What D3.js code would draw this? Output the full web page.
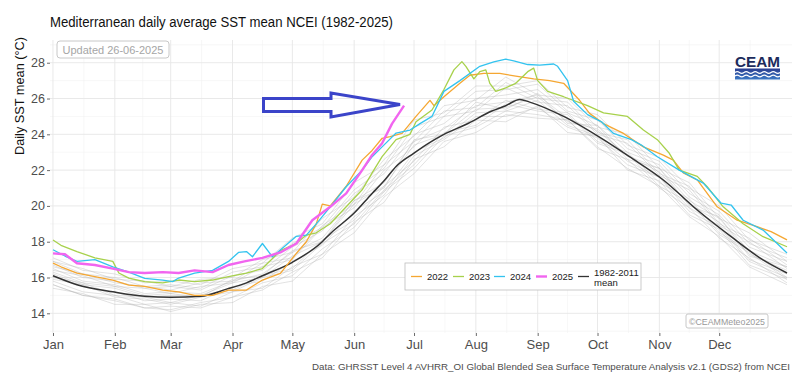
<!DOCTYPE html>
<html>
<head>
<meta charset="utf-8">
<script src="https://cdn.jsdelivr.net/npm/d3@7/dist/d3.min.js"></script>
<style>
body{margin:0;background:#fff}
svg{display:block;font-family:"Liberation Sans",Arial,sans-serif}
</style>
</head>
<body>
<svg width="800" height="384"></svg>
<script>

// month ticks (day of year, 0 = 1 Jan)
const monthDays = [0, 31, 59, 90, 120, 151, 181, 212, 243, 273, 304, 334]
const monthLabels = ["Jan","Feb","Mar","Apr","May","Jun","Jul","Aug","Sep","Oct","Nov","Dec"]
const yTicks = [14, 16, 18, 20, 22, 24, 26, 28]

// 1982-2011 mean
const meanDays = [0,12,30,46,59,74,87,97,105,120,135,139,151,160,166,172,181,189,196,207,220,227,234,239,256,276,289,306,323,340,356,368]
const meanVals = [16.1,15.6,15.2,14.95,14.9,14.95,15.35,15.7,16.1,16.85,18.0,18.45,19.6,20.7,21.4,22.2,22.95,23.55,24.0,24.55,25.3,25.6,25.95,25.8,25.0,23.7,22.75,21.45,19.77,18.28,16.98,16.25]

// 2022
const days2022 = [0,4,12,21,30,38,46,55,63,71,80,88,97,105,114,122,127,132,135,139,147,155,160,165,169,175,182,189,191,196,204,209,216,224,232,241,249,256,264,269,276,286,296,306,311,316,323,333,343,353,360,368]
const vals2022 = [16.8,16.6,16.25,16.05,15.86,15.58,15.5,15.3,15.2,15.0,15.0,15.3,15.3,15.86,16.23,17.35,18.0,19.0,20.1,20.0,21.1,22.56,23.1,23.78,23.87,24.05,25.0,25.9,25.6,26.1,26.85,27.3,27.4,27.4,27.25,27.1,27.0,26.85,25.9,25.17,24.6,24.05,23.3,22.84,22.56,21.85,21.45,19.95,19.2,18.84,18.56,18.1]

// 2023
const days2023 = [0,4,12,21,30,33,38,46,55,63,71,80,88,97,105,114,122,127,132,139,147,155,160,165,172,179,182,190,196,201,205,207,211,214,217,219,222,227,232,238,241,243,248,256,268,276,288,296,303,309,314,323,328,336,346,356,368]
const vals2023 = [18.1,17.8,17.45,17.1,16.9,16.25,15.97,15.77,15.7,15.86,15.77,15.86,16.05,16.25,16.5,17.5,17.9,18.37,18.5,19.0,19.95,20.9,21.85,22.75,23.7,24.0,24.7,25.36,26.5,27.6,28.06,27.8,27.1,27.5,27.6,26.85,26.4,26.6,26.85,27.5,27.7,27.0,26.4,26.1,25.6,25.2,25.0,24.24,23.7,22.94,22.0,21.65,21.07,19.95,19.0,18.28,17.72]

// 2024
const days2024 = [0,6,12,21,30,38,46,55,60,63,71,80,88,93,97,100,105,110,122,127,132,139,147,155,160,165,172,179,184,190,196,204,214,221,227,231,238,244,251,253,258,261,268,275,281,290,295,303,314,326,335,340,346,356,368]
const vals2024 = [17.55,17.2,16.9,17.0,16.6,16.3,15.95,15.85,15.77,15.97,16.25,16.4,16.9,17.4,17.45,17.16,17.9,17.16,18.3,18.37,19.0,19.95,21.07,22.0,22.75,23.3,24.07,24.24,24.6,25.0,26.4,27.0,27.8,28.05,28.2,28.1,27.9,27.87,27.93,27.8,27.0,25.85,25.1,24.7,24.05,23.7,23.4,22.75,22.0,21.27,20.15,20.05,19.2,18.65,17.37]

// 2025 (up to 26 June)
const days2025 = [0,6,12,21,30,38,46,55,63,71,80,88,96,105,114,122,130,139,147,155,160,165,170,176]
const vals2025 = [17.35,17.3,16.8,16.7,16.5,16.3,16.25,16.3,16.25,16.4,16.3,16.7,16.9,17.1,17.4,17.9,19.2,19.95,20.7,22.0,22.85,23.5,24.6,25.6]

// other years, 1982-2021 (grey)
const greyDays = [0,15,31,46,59,74,90,105,120,135,151,166,181,196,212,227,243,258,273,288,304,319,334,349,368]
const greyYears = [
  [15.6,15.0,14.7,14.3,14.2,14.6,14.9,15.7,16.1,17.6,18.8,20.8,22.1,23.9,24.4,25.3,25.1,24.8,23.2,22.6,21.0,19.9,18.2,17.1,15.7],
  [16.5,15.8,15.6,15.1,15.2,15.1,15.8,16.2,17.4,18.2,20.3,21.3,23.6,24.3,25.6,25.8,26.2,24.9,24.2,22.8,22.1,20.3,19.3,17.5,16.6],
  [15.9,15.6,14.9,14.8,14.5,14.9,15.2,16.0,16.4,17.9,19.0,20.9,22.3,24.1,24.5,25.7,25.3,25.1,23.5,22.9,21.1,20.2,18.4,17.4,15.9],
  [16.7,16.0,15.8,15.4,15.5,15.3,16.1,16.4,17.7,18.6,20.7,21.8,24.0,24.6,26.0,26.2,26.5,25.2,24.5,23.0,22.3,20.5,19.5,17.7,16.9],
  [15.4,15.1,14.5,14.5,14.1,14.5,14.6,15.5,15.8,17.3,18.5,20.5,21.8,23.6,24.1,25.1,24.9,24.8,23.3,22.1,21.1,19.4,18.3,16.6,15.6],
  [16.2,15.6,15.4,14.9,15.0,15.0,15.7,16.0,17.2,18.0,20.1,21.1,23.4,24.0,25.4,25.5,26.1,24.7,24.3,22.8,21.9,20.1,19.1,17.3,16.4],
  [16.9,16.2,16.0,15.5,15.6,15.4,16.3,16.6,17.9,18.8,20.9,22.1,24.4,25.0,26.4,26.5,26.8,25.3,24.8,23.2,22.5,20.7,19.7,17.9,17.1],
  [16.0,15.7,15.0,14.9,14.6,15.0,15.3,16.1,16.5,18.1,19.2,21.1,22.5,24.4,24.8,25.9,25.4,25.2,23.6,23.0,21.3,20.4,18.5,17.5,16.0],
  [17.1,16.4,16.2,15.7,15.8,15.6,16.5,16.8,18.2,19.0,21.3,22.3,24.8,25.2,26.7,26.7,27.0,25.5,25.1,23.4,22.7,21.0,20.0,18.1,17.3],
  [15.8,15.2,15.0,14.5,14.6,14.4,15.2,15.4,16.6,17.3,19.4,20.6,22.8,23.7,25.0,25.0,25.5,24.4,23.8,22.3,21.6,19.7,18.8,16.9,16.0],
  [16.4,16.1,15.5,15.4,15.1,15.5,15.7,16.6,17.0,18.8,19.9,22.0,23.3,25.0,25.3,26.6,25.8,25.6,24.0,23.5,21.7,20.9,18.9,18.0,16.5],
  [16.3,15.7,15.5,15.0,15.1,14.9,15.9,16.1,17.5,18.0,20.3,21.0,23.7,24.0,25.8,25.4,26.3,24.6,24.5,22.6,22.1,20.0,19.4,17.2,16.6],
  [16.9,16.5,15.9,15.8,15.5,15.9,16.0,17.0,17.4,19.3,20.5,22.6,23.9,25.6,25.9,27.2,26.2,26.0,24.4,24.0,22.1,21.3,19.3,18.5,16.9],
  [15.6,15.0,14.8,14.3,14.4,14.3,14.9,15.3,16.3,17.1,19.1,20.2,22.6,23.3,24.8,24.7,25.6,24.1,23.9,22.0,21.4,19.5,18.7,16.7,15.9],
  [16.1,15.5,15.2,14.7,14.8,14.7,15.5,15.8,16.9,17.8,19.7,20.8,23.0,23.8,25.2,25.3,25.9,24.5,23.9,22.5,21.6,19.9,18.9,17.0,16.2],
  [16.6,16.2,15.7,15.5,15.3,15.7,15.8,16.8,17.1,18.9,20.1,22.3,23.6,25.3,25.5,26.9,26.0,25.8,24.1,23.7,21.8,21.1,19.0,18.2,16.7]
]

const legendKeys = ["2022", "2023", "2024", "2025", "1982-2011"]
const colors = {"2022": "#f5a732", "2023": "#a7d14b", "2024": "#33c3ef", "2025": "#f165ef", "1982-2011": "#333333"}

let svg = d3.select("svg")
let x = d3.scaleLinear().domain([-1.5, 370.5]).range([50, 792])
let y = d3.scaleLinear().domain([12.9, 29.27]).range([333, 40])

// grille
let minorY = d3.range(13, 30, 2)
let minorX = monthDays.slice(0, -1).map((d, i) => (d + monthDays[i+1]) / 2).concat([349.5])
svg.append("g").selectAll("line").data(minorY).join("line")
    .attr("x1", 50).attr("x2", 792)
    .attr("y1", d => y(d)).attr("y2", d => y(d))
    .attr("stroke", "#f2f2f2").attr("stroke-width", 0.6)
svg.append("g").selectAll("line").data(minorX).join("line")
    .attr("y1", 40).attr("y2", 333)
    .attr("x1", d => x(d)).attr("x2", d => x(d))
    .attr("stroke", "#f2f2f2").attr("stroke-width", 0.6)
svg.append("g").selectAll("line").data(yTicks).join("line")
    .attr("x1", 50).attr("x2", 792)
    .attr("y1", d => y(d)).attr("y2", d => y(d))
    .attr("stroke", "#e6e6e6").attr("stroke-width", 0.9)
svg.append("g").selectAll("line").data(monthDays).join("line")
    .attr("y1", 40).attr("y2", 333)
    .attr("x1", d => x(d)).attr("x2", d => x(d))
    .attr("stroke", "#e6e6e6").attr("stroke-width", 0.9)

// axes
let yAxis = svg.append("g").attr("transform", "translate(50,0)")
    .call(d3.axisLeft(y).tickValues(yTicks).tickSize(3).tickPadding(2))
let xAxis = svg.append("g").attr("transform", "translate(0,333)")
    .call(d3.axisBottom(x).tickValues(monthDays).tickFormat((d, i) => monthLabels[i]).tickSize(3).tickPadding(4))
svg.selectAll(".domain").remove()
svg.selectAll(".tick line").attr("stroke", "#444").attr("stroke-width", 0.8)
yAxis.selectAll("text").attr("font-size", 12.5).attr("fill", "#4d4d4d").attr("font-family", "Liberation Sans, Arial")
xAxis.selectAll("text").attr("font-size", 13).attr("fill", "#4d4d4d").attr("font-family", "Liberation Sans, Arial")

let line = d3.line().x(d => x(d[0])).y(d => y(d[1]))

// annees grises
svg.append("g").selectAll("path").data(greyYears).join("path")
    .attr("d", v => line.curve(d3.curveLinear)(greyDays.map((d, i) => [d, v[i]])))
    .attr("fill", "none").attr("stroke", "#b3b3b3").attr("stroke-opacity", 0.55).attr("stroke-width", 0.7)

function drawSeries(days, vals, color, width, curve){
    svg.append("path")
        .attr("d", line.curve(curve || d3.curveLinear)(days.map((d, i) => [d, vals[i]])))
        .attr("fill", "none")
        .attr("stroke", color)
        .attr("stroke-width", width)
        .attr("stroke-linejoin", "round")
}

drawSeries(meanDays, meanVals, colors["1982-2011"], 1.5, d3.curveMonotoneX)
drawSeries(days2022, vals2022, colors["2022"], 1.3)
drawSeries(days2023, vals2023, colors["2023"], 1.3)
drawSeries(days2024, vals2024, colors["2024"], 1.3)
drawSeries(days2025, vals2025, colors["2025"], 2.4)

// titre
svg.append("text").attr("x", 50).attr("y", 27)
    .attr("font-size", 15.5).attr("fill", "#111")
    .attr("textLength", 343).attr("lengthAdjust", "spacingAndGlyphs")
    .text("Mediterranean daily average SST mean NCEI (1982-2025)")

svg.append("text").attr("transform", "translate(24,96) rotate(-90)")
    .attr("text-anchor", "middle").attr("font-size", 13).attr("fill", "#111")
    .attr("textLength", 118).attr("lengthAdjust", "spacingAndGlyphs")
    .text("Daily SST mean (°C)")

svg.append("text").attr("x", 790).attr("y", 370).attr("text-anchor", "end")
    .attr("font-size", 9.5).attr("fill", "#4d4d4d")
    .attr("textLength", 478).attr("lengthAdjust", "spacingAndGlyphs")
    .text("Data: GHRSST Level 4 AVHRR_OI Global Blended Sea Surface Temperature Analysis v2.1 (GDS2) from NCEI")

// etiquettes
svg.append("rect").attr("x", 57).attr("y", 41).attr("width", 112).attr("height", 17).attr("rx", 3)
    .attr("fill", "white").attr("stroke", "#c8c8c8").attr("stroke-width", 1)
svg.append("text").attr("x", 113).attr("y", 54).attr("text-anchor", "middle")
    .attr("font-size", 11).attr("fill", "#a6a6a6").text("Updated 26-06-2025")

svg.append("rect").attr("x", 686).attr("y", 314).attr("width", 82).attr("height", 14).attr("rx", 2)
    .attr("fill", "white").attr("stroke", "#c8c8c8").attr("stroke-width", 1)
svg.append("text").attr("x", 727).attr("y", 324.5).attr("text-anchor", "middle")
    .attr("font-size", 9).attr("fill", "#999")
    .attr("textLength", 76).attr("lengthAdjust", "spacingAndGlyphs")
    .text("©CEAMMeteo2025")

// logo CEAM
svg.append("text").attr("x", 735).attr("y", 66.5)
    .attr("font-size", 15).attr("font-weight", "bold").attr("fill", "#1c2b5c")
    .attr("textLength", 45).attr("lengthAdjust", "spacingAndGlyphs")
    .text("CEAM")
let grad = svg.append("defs").append("linearGradient").attr("id", "band").attr("x1", 0).attr("x2", 0).attr("y1", 0).attr("y2", 1)
grad.append("stop").attr("offset", "0%").attr("stop-color", "#2a3d8f")
grad.append("stop").attr("offset", "100%").attr("stop-color", "#3b78c4")
svg.append("rect").attr("x", 735).attr("y", 68.5).attr("width", 45).attr("height", 11).attr("fill", "url(#band)")
for (let k = 0; k < 2; k++) {
    let yy = 72.5 + k * 3.5
    let p = `M735 ${yy}`
    for (let s = 0; s < 5; s++) {
        let x0 = 735 + s * 9
        p += ` Q${x0 + 2.25} ${yy - 1.8} ${x0 + 4.5} ${yy} T${x0 + 9} ${yy}`
    }
    svg.append("path").attr("d", p).attr("fill", "none").attr("stroke", "white").attr("stroke-width", 1.1)
}

// fleche
svg.append("path")
    .attr("d", "M263.5 98.5 L331 98.5 L331 93 L400 104.5 L331 117 L331 111.5 L263.5 111.5 Z")
    .attr("fill", "none").attr("stroke", "#3b44c9").attr("stroke-width", 3).attr("stroke-linejoin", "miter")

// legende
let leg = svg.append("g")
leg.append("rect").attr("x", 405).attr("y", 263).attr("width", 236).attr("height", 27)
    .attr("fill", "white").attr("stroke", "#bdbdbd").attr("stroke-width", 0.8)
let legX = [411, 453, 494, 536, 578]
legendKeys.forEach((k, i) => {
    leg.append("line").attr("x1", legX[i]).attr("x2", legX[i] + 11).attr("y1", 276.5).attr("y2", 276.5)
        .attr("stroke", colors[k]).attr("stroke-width", k == "2025" ? 2.4 : 1.3)
    if (k == "1982-2011") {
        leg.append("text").attr("x", legX[i] + 16).attr("y", 276).attr("font-size", 9.5).attr("fill", "#222").text("1982-2011")
        leg.append("text").attr("x", legX[i] + 16).attr("y", 285.5).attr("font-size", 9.5).attr("fill", "#222").text("mean")
    } else {
        leg.append("text").attr("x", legX[i] + 16).attr("y", 280).attr("font-size", 9.5).attr("fill", "#222").text(k)
    }
})

</script>
</body>
</html>
